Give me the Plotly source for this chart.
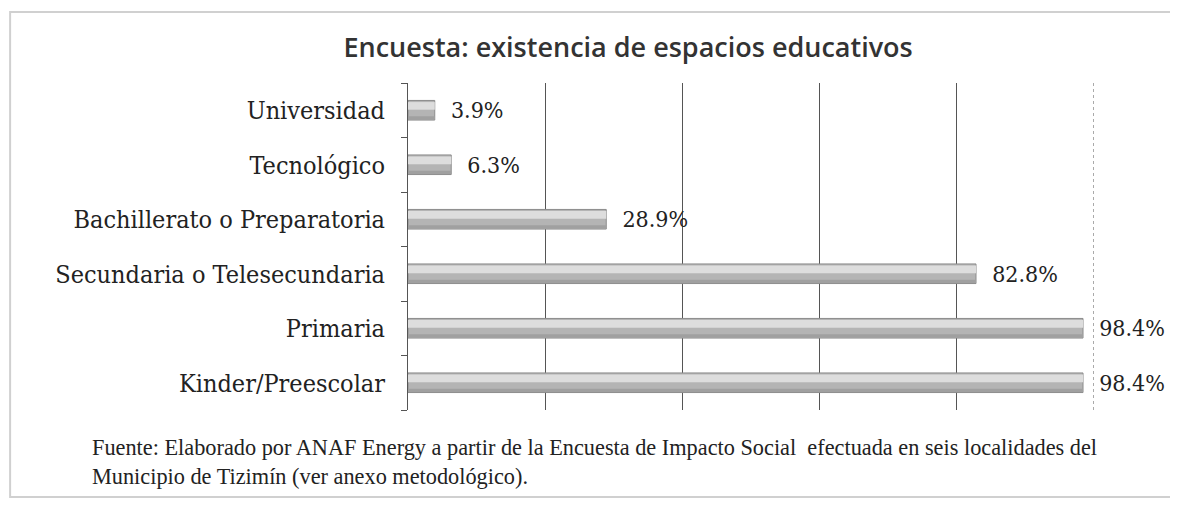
import plotly.graph_objects as go

categories = ['Kinder/Preescolar', 'Primaria', 'Secundaria o Telesecundaria',
              'Bachillerato o Preparatoria', 'Tecnológico', 'Universidad']
values = [98.4, 98.4, 82.8, 28.9, 6.3, 3.9]
labels = ['98.4%', '98.4%', '82.8%', '28.9%', '6.3%', '3.9%']

title = 'Encuesta: existencia de espacios educativos'
source = ('Fuente: Elaborado por ANAF Energy a partir de la Encuesta de Impacto Social  '
          'efectuada en seis localidades del<br>Municipio de Tizimín (ver anexo metodológico).')

serif = 'DejaVu Serif Condensed, DejaVu Serif, serif'

fig = go.Figure()

# base bar (mid gray body of the cylinder look)
fig.add_trace(go.Bar(
    y=categories, x=values, orientation='h', width=0.36, offset=-0.18,
    marker=dict(color='#b4b4b4', line=dict(color='#8c8c8c', width=1)),
    text=labels, texttemplate='  %{text}', textposition='outside',
    constraintext='none', cliponaxis=False,
    textfont=dict(family=serif, size=23, color='#222'),
    hoverinfo='skip'
))
# light upper highlight
fig.add_trace(go.Bar(
    y=categories, x=values, orientation='h', width=0.14, offset=0.01,
    marker=dict(color='#dddddd', line=dict(width=0)),
    hoverinfo='skip'
))
# darker lower shade
fig.add_trace(go.Bar(
    y=categories, x=values, orientation='h', width=0.06, offset=-0.17,
    marker=dict(color='#a0a0a0', line=dict(width=0)),
    hoverinfo='skip'
))

fig.update_layout(
    barmode='overlay',
    width=1170, height=502,
    margin=dict(l=400, r=84, t=75, b=100),
    paper_bgcolor='white', plot_bgcolor='white',
    showlegend=False,
    title=dict(text=title, x=0.530, xanchor='center', y=0.922, yanchor='middle',
               font=dict(family='Open Sans', size=27, color='#333', weight=600)),
    xaxis=dict(range=[0, 100], dtick=20, showticklabels=False, showgrid=True,
               gridcolor='#555', gridwidth=1, zeroline=False, showline=False),
    yaxis=dict(type='category', showline=True, linecolor='#555', linewidth=1,
               ticks='outside', tickson='boundaries', ticklen=6, tickcolor='#555',
               tickfont=dict(family=serif, size=25, color='#222'),
               ticklabelstandoff=17, showgrid=False),
    shapes=[
        dict(type='line', xref='x', yref='paper', x0=100, x1=100, y0=0, y1=1,
             line=dict(color='#555', width=1, dash='dot')),
        dict(type='rect', xref='paper', yref='paper', x0=-0.580, x1=1.2, y0=-0.266, y1=1.217,
             line=dict(color='#d0d0d0', width=2)),
    ],
    annotations=[
        dict(text=source, xref='paper', yref='paper', x=-0.4636, y=-0.07,
             xanchor='left', yanchor='top', align='left', showarrow=False,
             font=dict(family='Liberation Serif', size=22.3, color='#222')),
    ],
)

fig.write_html('out.html')
